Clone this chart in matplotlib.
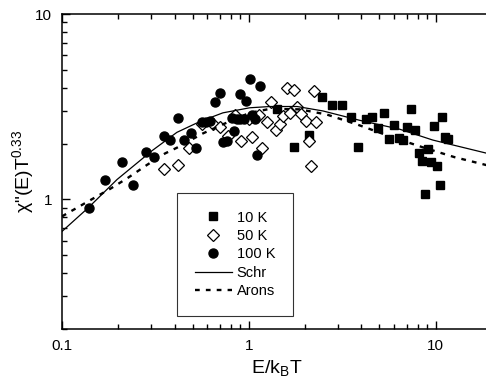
import numpy as np
import matplotlib
matplotlib.use('Agg')
import matplotlib.pyplot as plt
from matplotlib.ticker import FixedLocator, FuncFormatter, NullFormatter, LogLocator

plt.rcParams['font.family'] = ['Liberation Sans', 'DejaVu Sans']

# 10 K (filled squares)
x10 = [1.41, 1.75, 2.10, 2.45, 2.80, 3.16, 3.50, 3.84, 4.22, 4.56, 4.91, 5.27, 5.61, 5.96, 6.34,
       6.68, 7.02, 7.35, 7.70, 8.11, 8.45, 8.79, 9.14, 9.48, 9.84, 10.2, 10.55, 10.86, 11.2, 11.6]
y10 = [3.09, 1.92, 2.22, 3.58, 3.23, 3.23, 2.77, 1.92, 2.72, 2.79, 2.44, 2.91, 2.13, 2.51, 2.14,
       2.08, 2.47, 3.06, 2.38, 1.79, 1.61, 1.07, 1.87, 1.60, 2.49, 1.51, 1.20, 2.80, 2.16, 2.13]

# 50 K (open diamonds)
x50 = [0.35, 0.42, 0.48, 0.56, 0.64, 0.70, 0.77, 0.84, 0.91, 1.00, 1.04, 1.13, 1.18, 1.25, 1.32,
       1.39, 1.47, 1.53, 1.60, 1.67, 1.75, 1.81, 1.91, 2.01, 2.10, 2.16, 2.23, 2.30]
y50 = [1.45, 1.53, 1.90, 2.54, 2.55, 2.46, 2.21, 2.87, 2.07, 2.72, 2.18, 2.87, 1.90, 2.61, 3.36,
       2.36, 2.55, 2.81, 4.00, 2.94, 3.87, 3.15, 2.90, 2.64, 2.06, 1.52, 3.82, 2.62]

# 100 K (filled circles)
x100 = [0.14, 0.17, 0.21, 0.24, 0.28, 0.31, 0.35, 0.38, 0.42, 0.45, 0.49, 0.52, 0.56, 0.59, 0.62,
        0.66, 0.70, 0.73, 0.76, 0.81, 0.83, 0.86, 0.90, 0.94, 0.90, 0.97, 1.01, 1.04, 1.08, 1.11, 1.15]
y100 = [0.90, 1.27, 1.60, 1.20, 1.80, 1.70, 2.21, 2.09, 2.76, 2.10, 2.27, 1.90, 2.62, 2.62, 2.64,
        3.34, 3.76, 2.04, 2.06, 2.76, 2.34, 2.72, 2.72, 2.72, 3.69, 3.41, 4.48, 2.86, 2.70, 1.73, 4.10]

# Schr (solid) and Arons (dotted) curves
x_schr = [0.1, 0.138, 0.197, 0.303, 0.412, 0.547, 0.726, 1.01, 1.30, 1.81, 2.49, 3.92, 6.42, 9.64, 18.5, 20]
y_schr = [0.672, 0.90, 1.28, 1.83, 2.30, 2.63, 2.93, 3.12, 3.17, 3.17, 3.00, 2.67, 2.39, 2.09, 1.78, 1.75]
x_arons = [0.1, 0.141, 0.181, 0.226, 0.285, 0.356, 0.412, 0.568, 0.726, 1.01, 1.30, 1.87, 2.61, 3.78,
           5.82, 8.52, 12.6, 18.5, 20]
y_arons = [0.81, 0.988, 1.14, 1.31, 1.535, 1.77, 1.90, 2.27, 2.54, 2.93, 3.08, 3.06, 2.87, 2.54,
           2.17, 1.91, 1.69, 1.535, 1.50]

fig = plt.figure(figsize=(4.86, 3.84), dpi=100)
ax = fig.add_axes([62/486, 55/384, 430/486, 315/384])

ax.plot(x10, y10, 's', color='black', ms=5.8, mec='black', label='10 K', clip_on=False)
ax.plot(x50, y50, 'D', color='white', ms=6.2, mec='black', mew=0.9, label='50 K', clip_on=False)
ax.plot(x100, y100, 'o', color='black', ms=6.5, label='100 K', clip_on=False)
ax.plot(x_schr, y_schr, '-', color='black', lw=0.9, label='Schr')
ax.plot(x_arons, y_arons, color='black', lw=1.7, ls=(0, (2.0, 2.6)), label='Arons')

ax.set_xscale('log')
ax.set_yscale('log')
ax.set_xlim(0.1, 20)
ax.set_ylim(0.2, 10)

fmt = FuncFormatter(lambda v, _: f'{v:g}')
ax.xaxis.set_major_locator(FixedLocator([0.1, 1, 10]))
ax.yaxis.set_major_locator(FixedLocator([1, 10]))
ax.xaxis.set_major_formatter(fmt)
ax.yaxis.set_major_formatter(fmt)
ax.xaxis.set_minor_locator(LogLocator(base=10, subs=np.arange(2, 10)))
ax.yaxis.set_minor_locator(LogLocator(base=10, subs=np.arange(2, 10)))
ax.xaxis.set_minor_formatter(NullFormatter())
ax.yaxis.set_minor_formatter(NullFormatter())

ax.tick_params(which='both', direction='in', top=True, right=False, width=1.0, colors='black')
ax.tick_params(which='major', length=6, labelsize=11, pad=7)
ax.tick_params(which='minor', length=3.5)
ax.spines['right'].set_visible(False)
for s in ['left', 'bottom', 'top']:
    ax.spines[s].set_linewidth(1.1)

ax.set_xlabel('E/k$_\\mathregular{B}$T', fontsize=14)
ax.set_ylabel('χ"(E)T$^\\mathregular{0.33}$', fontsize=14)
ax.xaxis.set_label_coords(0.5, -0.095)
ax.yaxis.set_label_coords(-0.058, 0.5)

leg = ax.legend(loc='upper left', bbox_to_anchor=((177 - 62) / 430, (329 - 193) / 315),
                fontsize=10.5, frameon=True, fancybox=False, edgecolor='black',
                handlelength=2.6, handletextpad=0.3, labelspacing=0.3, borderpad=1.2,
                borderaxespad=0, numpoints=1)
leg.get_frame().set_linewidth(0.8)

fig.savefig('out.png', dpi=100)
